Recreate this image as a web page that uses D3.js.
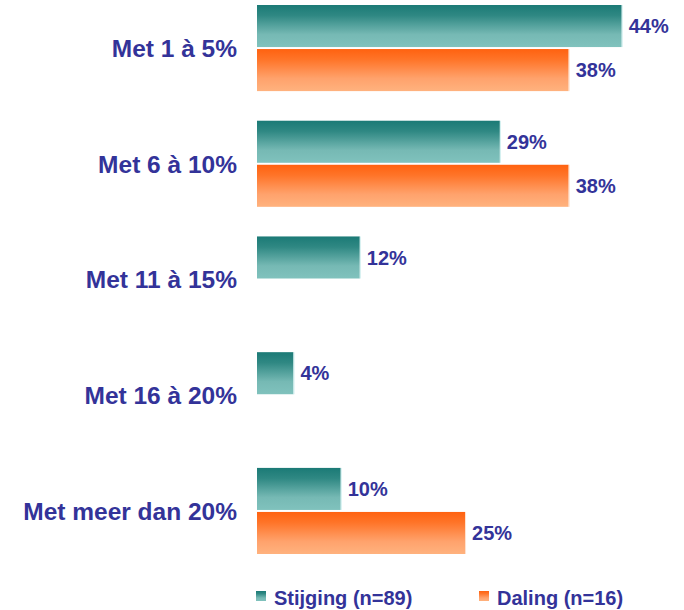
<!DOCTYPE html>
<html>
<head>
<meta charset="utf-8">
<script src="https://cdn.jsdelivr.net/npm/d3@7"></script>
<style>
  body { margin: 0; background: #fff; }
  text { font-family: "Liberation Sans", Arial, sans-serif; font-weight: bold; fill: #333399; }
</style>
</head>
<body>
<div id="chart"></div>
<script>
// Chart data (bar lengths, labels rounded)
const categories = ['Met 1 à 5%', 'Met 6 à 10%', 'Met 11 à 15%', 'Met 16 à 20%', 'Met meer dan 20%'];
const seriesNames = ['Stijging (n=89)', 'Daling (n=16)'];
const stijging = [44.0, 29.3, 12.4, 4.4, 10.1];
const daling = [37.6, 37.6, null, null, 25.1];

const width = 684, height = 610;

const svg = d3.select('#chart').append('svg')
  .attr('width', width)
  .attr('height', height);

// Gradients for the bars
const defs = svg.append('defs');
const grads = [
  { id: 'g-teal', stops: [['0%', '#1b7a76'], ['25%', '#2f8883'], ['70%', '#76b9b4'], ['100%', '#80c2bd']] },
  { id: 'g-orange', stops: [['0%', '#ff6210'], ['25%', '#ff7428'], ['70%', '#ffa26c'], ['100%', '#ffb27e']] }
];
grads.forEach(g => {
  const lg = defs.append('linearGradient')
    .attr('id', g.id)
    .attr('x1', 0).attr('y1', 0).attr('x2', 0).attr('y2', 1);
  g.stops.forEach(s => lg.append('stop').attr('offset', s[0]).attr('stop-color', s[1]));
});
const fills = ['url(#g-teal)', 'url(#g-orange)'];
const edgeColors = ['#cfeeee', '#ffe0cc'];

// Scales
const x = d3.scaleLinear()
  .domain([0, 44])
  .range([257, 621.7]);

const y = d3.scaleBand()
  .domain(categories)
  .range([5, 554])
  .paddingInner(0.256)
  .paddingOuter(0);

const ySub = d3.scaleBand()
  .domain(seriesNames)
  .range([0, y.bandwidth()])
  .paddingInner(0.045);

// Flatten to one row per bar
const bars = [];
categories.forEach((c, i) => {
  [stijging[i], daling[i]].forEach((v, s) => {
    if (v != null) bars.push({ cat: c, series: seriesNames[s], s: s, value: v });
  });
});

// Bars
svg.selectAll('rect.bar')
  .data(bars)
  .join('rect')
  .attr('class', 'bar')
  .attr('x', x(0))
  .attr('y', d => y(d.cat) + ySub(d.series))
  .attr('width', d => x(d.value) - x(0))
  .attr('height', ySub.bandwidth())
  .attr('fill', d => fills[d.s]);

// thin light edge on the right of each bar
svg.selectAll('rect.edge')
  .data(bars)
  .join('rect')
  .attr('class', 'edge')
  .attr('x', d => x(d.value))
  .attr('y', d => y(d.cat) + ySub(d.series))
  .attr('width', 1)
  .attr('height', ySub.bandwidth())
  .attr('fill', d => edgeColors[d.s]);

// Value labels
svg.selectAll('text.value')
  .data(bars)
  .join('text')
  .attr('class', 'value')
  .attr('x', d => x(d.value) + 7)
  .attr('y', d => y(d.cat) + ySub(d.series) + ySub.bandwidth() / 2)
  .attr('dy', '0.36em')
  .style('font-size', '20px')
  .text(d => Math.round(d.value) + '%');

// Category labels
const yAxis = svg.append('g')
  .attr('class', 'y-axis');
yAxis.selectAll('text')
  .data(categories)
  .join('text')
  .attr('x', 237)
  .attr('y', d => y(d) + y.bandwidth() / 2)
  .attr('dy', '0.36em')
  .attr('text-anchor', 'end')
  .style('font-size', '24.5px')
  .text(d => d);

// Legend
const legendX = [256, 479];
const legend = svg.append('g').attr('class', 'legend');
const items = legend.selectAll('g')
  .data(seriesNames)
  .join('g')
  .attr('transform', (d, i) => `translate(${legendX[i]}, 591)`);
items.append('rect')
  .attr('width', 10)
  .attr('height', 10)
  .attr('fill', (d, i) => fills[i]);
items.append('text')
  .attr('x', 18)
  .attr('y', 14)
  .style('font-size', '20px')
  .text(d => d);
</script>
</body>
</html>
